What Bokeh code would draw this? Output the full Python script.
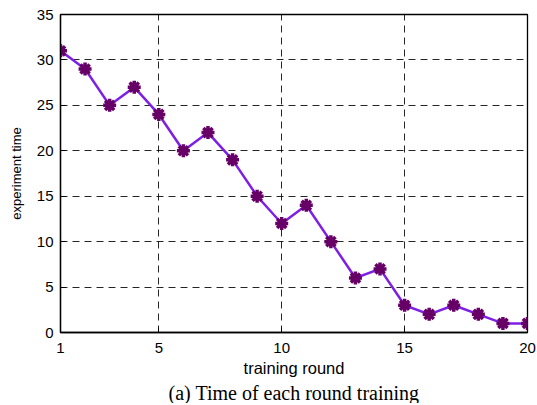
from bokeh.plotting import figure
from bokeh.models import FixedTicker, Title, Range1d
from bokeh.embed import file_html
from bokeh.resources import INLINE

rounds = list(range(1, 21))
times = [31, 29, 25, 27, 24, 20, 22, 19, 15, 12, 14, 10, 6, 7, 3, 2, 3, 2, 1, 1]
x_ticks = [1, 5, 10, 15, 20]
y_ticks = [0, 5, 10, 15, 20, 25, 30, 35]

p = figure(frame_width=467, frame_height=318, output_backend="svg",
           toolbar_location=None, x_range=Range1d(1, 20), y_range=Range1d(0, 35),
           min_border_left=60, min_border_right=10, min_border_top=14, min_border_bottom=0)
p.outline_line_color = "black"
p.outline_line_width = 1.3
p.outline_line_alpha = 1

for ax in (p.xaxis[0], p.yaxis[0]):
    ax.major_tick_in = 5
    ax.major_tick_out = 0
    ax.minor_tick_line_color = None
    ax.axis_line_color = "black"
    ax.axis_line_width = 1.3
    ax.major_tick_line_color = "black"
    ax.major_label_text_font = "Liberation Sans"
    ax.major_label_text_color = "black"
    ax.axis_label_text_font = "Liberation Sans"
    ax.axis_label_text_font_style = "normal"
    ax.axis_label_text_color = "black"

p.xaxis[0].ticker = FixedTicker(ticks=x_ticks)
p.yaxis[0].ticker = FixedTicker(ticks=y_ticks)
p.xaxis[0].axis_label = "training round"
p.yaxis[0].axis_label = "experiment time"
p.xaxis[0].major_label_text_font_size = "15px"
p.yaxis[0].major_label_text_font_size = "15px"
p.xaxis[0].axis_label_text_font_size = "16.5px"
p.yaxis[0].axis_label_text_font_size = "13px"
p.xaxis[0].major_label_standoff = 10
p.xaxis[0].axis_label_standoff = 3
p.yaxis[0].major_label_standoff = 7
p.yaxis[0].axis_label_standoff = 10

p.xgrid.ticker = FixedTicker(ticks=x_ticks)
p.ygrid.ticker = FixedTicker(ticks=y_ticks)
for g in (p.xgrid[0], p.ygrid[0]):
    g.grid_line_color = "black"
    g.grid_line_dash = "7 5"
    g.grid_line_width = 1
    g.grid_line_alpha = 0.85

p.line(rounds, times, line_color="#7f1fe6", line_width=2.5)
p.scatter(rounds, times, marker="asterisk", size=13, line_color="#660066", line_width=3.5)

cap = Title(text="(a) Time of each round training", align="center",
            text_font="Liberation Serif", text_font_size="20px",
            text_font_style="normal", text_color="black", standoff=0, offset=0)
p.add_layout(cap, "below")

open("out.html", "w").write(file_html(p, INLINE))
